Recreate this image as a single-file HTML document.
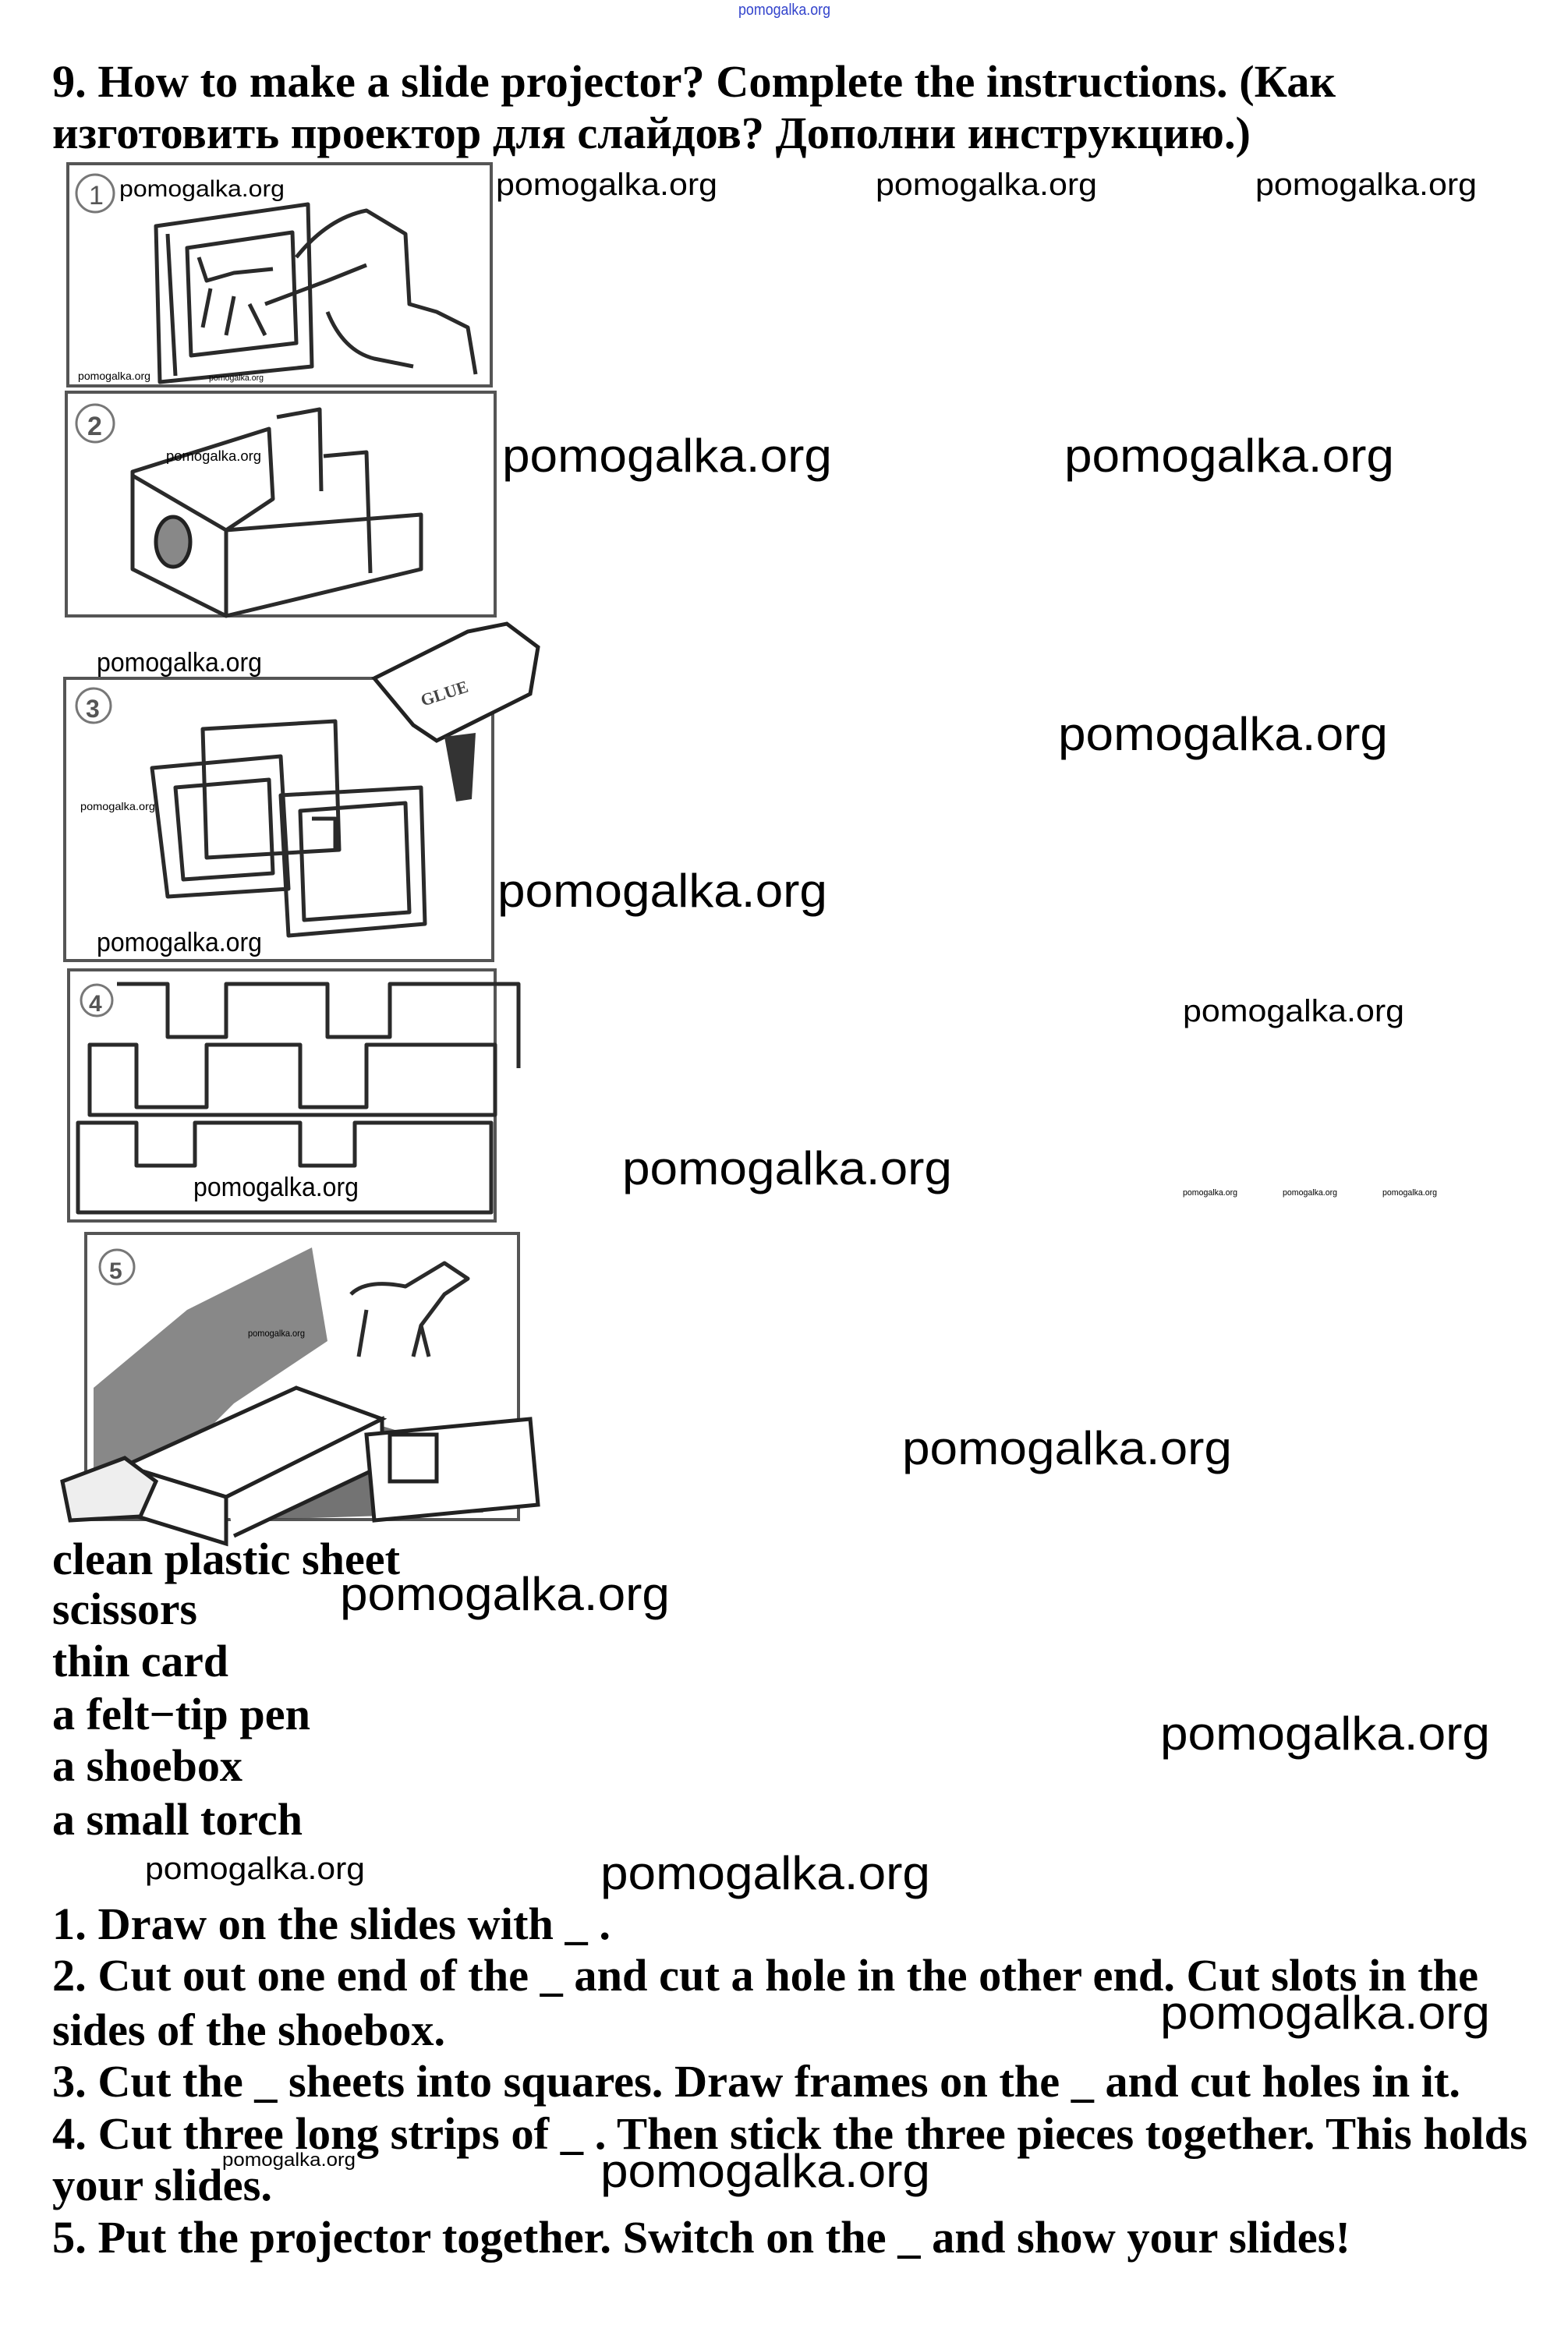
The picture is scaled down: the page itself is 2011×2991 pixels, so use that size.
<!DOCTYPE html>
<html><head><meta charset="utf-8"><style>
html,body{margin:0;padding:0;background:#fff}
svg{display:block}
.t{font-family:"Liberation Serif","Noto Serif CJK SC",serif;font-weight:bold;font-size:58px;fill:#000}
.w{font-family:"Liberation Sans","DejaVu Sans",sans-serif;fill:#000}
.d{fill:none;stroke:#2a2a2a;stroke-width:5;stroke-linejoin:round}
.b{fill:none;stroke:#555;stroke-width:4}
</style></head><body>
<svg width="2011" height="2991" viewBox="0 0 2011 2991" xmlns="http://www.w3.org/2000/svg">
<rect width="2011" height="2991" fill="#fff"/>
<text class="w" x="947" y="19" font-size="20" fill="#3344cc" style="fill:#3344cc" textLength="118" lengthAdjust="spacingAndGlyphs">pomogalka.org</text>

<text class="t" x="67" y="124" textLength="1646" lengthAdjust="spacingAndGlyphs">9. How to make a slide projector? Complete the instructions. (Как</text>
<text class="t" x="67" y="190" textLength="1537" lengthAdjust="spacingAndGlyphs">изготовить проектор для слайдов? Дополни инструкцию.)</text>

<!-- Panel 1 -->
<rect class="b" x="87" y="210" width="543" height="285"/>
<circle cx="122" cy="248" r="24" fill="none" stroke="#777" stroke-width="3"/>
<text x="114" y="262" font-family="Liberation Sans" font-size="34" fill="#555">1</text>
<path class="d" d="M200 290 L395 262 L400 470 L205 490 Z M215 300 L225 482 M240 318 L375 298 L380 440 L245 456 Z"/>
<path class="d" d="M255 330 L265 360 L300 350 L350 345 M270 370 L260 420 M300 380 L290 430 M320 390 L340 430"/>
<path class="d" d="M380 330 Q420 280 470 270 L520 300 L525 390 L560 400 L600 420 L610 480 M420 400 Q440 450 480 460 L530 470 M340 390 L420 360 L470 340"/>
<text class="w" x="153" y="252" font-size="30" textLength="212" lengthAdjust="spacingAndGlyphs">pomogalka.org</text>
<text class="w" x="100" y="487" font-size="14" textLength="93" lengthAdjust="spacingAndGlyphs">pomogalka.org</text>
<text class="w" x="268" y="488" font-size="11" textLength="70" lengthAdjust="spacingAndGlyphs">pomogalka.org</text>
<text class="w" x="636" y="250" font-size="40" textLength="284" lengthAdjust="spacingAndGlyphs">pomogalka.org</text>
<text class="w" x="1123" y="250" font-size="40" textLength="284" lengthAdjust="spacingAndGlyphs">pomogalka.org</text>
<text class="w" x="1610" y="250" font-size="40" textLength="284" lengthAdjust="spacingAndGlyphs">pomogalka.org</text>

<!-- Panel 2 -->
<rect class="b" x="85" y="503" width="550" height="287"/>
<circle cx="122" cy="543" r="24" fill="none" stroke="#777" stroke-width="3"/>
<text x="112" y="558" font-family="Liberation Sans" font-weight="bold" font-size="34" fill="#555">2</text>
<path class="d" d="M170 605 L345 550 L350 640 L290 680 L170 610 Z M170 605 L170 730 L290 790 L290 680 M290 790 L540 730 L540 660 L290 680 M355 535 L410 525 L412 630 M415 585 L470 580 L475 735"/>
<ellipse cx="222" cy="695" rx="22" ry="32" fill="#888" stroke="#222" stroke-width="5"/>
<text class="w" x="213" y="591" font-size="18" textLength="122" lengthAdjust="spacingAndGlyphs">pomogalka.org</text>
<text class="w" x="644" y="605" font-size="60" textLength="423" lengthAdjust="spacingAndGlyphs">pomogalka.org</text>
<text class="w" x="1365" y="605" font-size="60" textLength="423" lengthAdjust="spacingAndGlyphs">pomogalka.org</text>

<!-- Panel 3 -->
<text class="w" x="124" y="861" font-size="34" textLength="212" lengthAdjust="spacingAndGlyphs">pomogalka.org</text>
<rect class="b" x="83" y="870" width="549" height="362"/>
<circle cx="120" cy="905" r="22" fill="none" stroke="#777" stroke-width="3"/>
<text x="110" y="920" font-family="Liberation Sans" font-weight="bold" font-size="32" fill="#555">3</text>
<path d="M480 870 L600 810 L650 800 L690 830 L680 890 L620 920 L560 950 L530 930 Z" fill="#fff" stroke="#222" stroke-width="5"/>
<text x="540" y="900" font-family="Liberation Serif" font-weight="bold" font-size="22" fill="#444" transform="rotate(-18 560 895)">GLUE</text>
<path d="M570 945 L610 940 L605 1025 L585 1028 Z" fill="#333"/>
<path class="d" d="M260 935 L430 925 L435 1090 L265 1100 Z M195 985 L360 970 L370 1140 L215 1150 Z M225 1010 L345 1000 L350 1120 L235 1128 Z M360 1020 L540 1010 L545 1185 L370 1200 Z M385 1040 L520 1030 L525 1170 L390 1180 Z M400 1050 L430 1050 L430 1090"/>
<text class="w" x="103" y="1039" font-size="14" textLength="96" lengthAdjust="spacingAndGlyphs">pomogalka.org</text>
<text class="w" x="124" y="1220" font-size="34" textLength="212" lengthAdjust="spacingAndGlyphs">pomogalka.org</text>
<text class="w" x="1357" y="962" font-size="60" textLength="423" lengthAdjust="spacingAndGlyphs">pomogalka.org</text>
<text class="w" x="638" y="1163" font-size="60" textLength="423" lengthAdjust="spacingAndGlyphs">pomogalka.org</text>

<!-- Panel 4 -->
<rect class="b" x="88" y="1244" width="547" height="322"/>
<circle cx="124" cy="1283" r="20" fill="none" stroke="#777" stroke-width="3"/>
<text x="114" y="1297" font-family="Liberation Sans" font-weight="bold" font-size="30" fill="#555">4</text>
<path class="d" d="M150 1262 L215 1262 L215 1330 L290 1330 L290 1262 L420 1262 L420 1330 L500 1330 L500 1262 L665 1262 L665 1370"/>
<path class="d" d="M115 1340 L175 1340 L175 1420 L265 1420 L265 1340 L385 1340 L385 1420 L470 1420 L470 1340 L635 1340 L635 1430 L115 1430 Z"/>
<path class="d" d="M100 1440 L175 1440 L175 1495 L250 1495 L250 1440 L385 1440 L385 1495 L455 1495 L455 1440 L630 1440 L630 1555 L100 1555 Z"/>
<text class="w" x="248" y="1534" font-size="34" textLength="212" lengthAdjust="spacingAndGlyphs">pomogalka.org</text>
<text class="w" x="1517" y="1310" font-size="40" textLength="284" lengthAdjust="spacingAndGlyphs">pomogalka.org</text>
<text class="w" x="798" y="1519" font-size="60" textLength="423" lengthAdjust="spacingAndGlyphs">pomogalka.org</text>
<text class="w" x="1517" y="1533" font-size="11" textLength="70" lengthAdjust="spacingAndGlyphs">pomogalka.org</text>
<text class="w" x="1645" y="1533" font-size="11" textLength="70" lengthAdjust="spacingAndGlyphs">pomogalka.org</text>
<text class="w" x="1773" y="1533" font-size="11" textLength="70" lengthAdjust="spacingAndGlyphs">pomogalka.org</text>

<!-- Panel 5 -->
<rect class="b" x="110" y="1582" width="555" height="367"/>
<circle cx="150" cy="1625" r="22" fill="none" stroke="#777" stroke-width="3"/>
<text x="140" y="1640" font-family="Liberation Sans" font-weight="bold" font-size="30" fill="#555">5</text>
<path d="M120 1780 L240 1680 L400 1600 L420 1720 L300 1800 L180 1920 L120 1940 Z" fill="#555" opacity="0.7"/>
<path d="M300 1880 L460 1820 L560 1850 L620 1940 L300 1950 Z" fill="#444" opacity="0.75"/>
<path class="d" d="M450 1660 Q470 1640 520 1650 L570 1620 L600 1640 L570 1660 L540 1700 L530 1740 M470 1680 L460 1740 M540 1700 L550 1740"/>
<path d="M160 1880 L380 1780 L490 1820 L290 1920 Z" fill="#fff" stroke="#222" stroke-width="5"/>
<path d="M160 1880 L160 1940 L290 1980 L290 1920 Z M290 1920 L490 1820 L490 1880 L300 1970" fill="#fff" stroke="#222" stroke-width="5"/>
<path d="M470 1840 L680 1820 L690 1930 L480 1950 Z" fill="#fff" stroke="#222" stroke-width="5"/>
<rect x="500" y="1840" width="60" height="60" fill="#fff" stroke="#222" stroke-width="5"/>
<path d="M80 1900 L160 1870 L200 1900 L180 1945 L90 1950 Z" fill="#eee" stroke="#222" stroke-width="5"/>
<text class="w" x="318" y="1714" font-size="12" textLength="73" lengthAdjust="spacingAndGlyphs">pomogalka.org</text>
<text class="w" x="1157" y="1878" font-size="60" textLength="423" lengthAdjust="spacingAndGlyphs">pomogalka.org</text>

<!-- word list -->
<text class="t" x="67" y="2019" textLength="446" lengthAdjust="spacingAndGlyphs">clean plastic sheet</text>
<text class="t" x="67" y="2083" textLength="186" lengthAdjust="spacingAndGlyphs">scissors</text>
<text class="t" x="67" y="2150" textLength="226" lengthAdjust="spacingAndGlyphs">thin card</text>
<text class="t" x="67" y="2218" textLength="331" lengthAdjust="spacingAndGlyphs">a felt−tip pen</text>
<text class="t" x="67" y="2284" textLength="244" lengthAdjust="spacingAndGlyphs">a shoebox</text>
<text class="t" x="67" y="2353" textLength="321" lengthAdjust="spacingAndGlyphs">a small torch</text>

<text class="w" x="436" y="2065" font-size="60" textLength="423" lengthAdjust="spacingAndGlyphs">pomogalka.org</text>
<text class="w" x="1488" y="2244" font-size="60" textLength="423" lengthAdjust="spacingAndGlyphs">pomogalka.org</text>
<text class="w" x="186" y="2410" font-size="40" textLength="282" lengthAdjust="spacingAndGlyphs">pomogalka.org</text>
<text class="w" x="770" y="2423" font-size="60" textLength="423" lengthAdjust="spacingAndGlyphs">pomogalka.org</text>
<text class="w" x="1488" y="2602" font-size="60" textLength="423" lengthAdjust="spacingAndGlyphs">pomogalka.org</text>
<text class="w" x="285" y="2778" font-size="24" textLength="171" lengthAdjust="spacingAndGlyphs">pomogalka.org</text>
<text class="w" x="770" y="2805" font-size="60" textLength="423" lengthAdjust="spacingAndGlyphs">pomogalka.org</text>

<!-- sentences -->
<text class="t" x="67" y="2487" textLength="716" lengthAdjust="spacingAndGlyphs">1. Draw on the slides with _ .</text>
<text class="t" x="67" y="2553" textLength="1829" lengthAdjust="spacingAndGlyphs">2. Cut out one end of the _ and cut a hole in the other end. Cut slots in the</text>
<text class="t" x="67" y="2623" textLength="504" lengthAdjust="spacingAndGlyphs">sides of the shoebox.</text>
<text class="t" x="67" y="2689" textLength="1806" lengthAdjust="spacingAndGlyphs">3. Cut the _ sheets into squares. Draw frames on the _ and cut holes in it.</text>
<text class="t" x="67" y="2756" textLength="1892" lengthAdjust="spacingAndGlyphs">4. Cut three long strips of _ . Then stick the three pieces together. This holds</text>
<text class="t" x="67" y="2822" textLength="282" lengthAdjust="spacingAndGlyphs">your slides.</text>
<text class="t" x="67" y="2889" textLength="1665" lengthAdjust="spacingAndGlyphs">5. Put the projector together. Switch on the _ and show your slides!</text>
</svg>
</body></html>
